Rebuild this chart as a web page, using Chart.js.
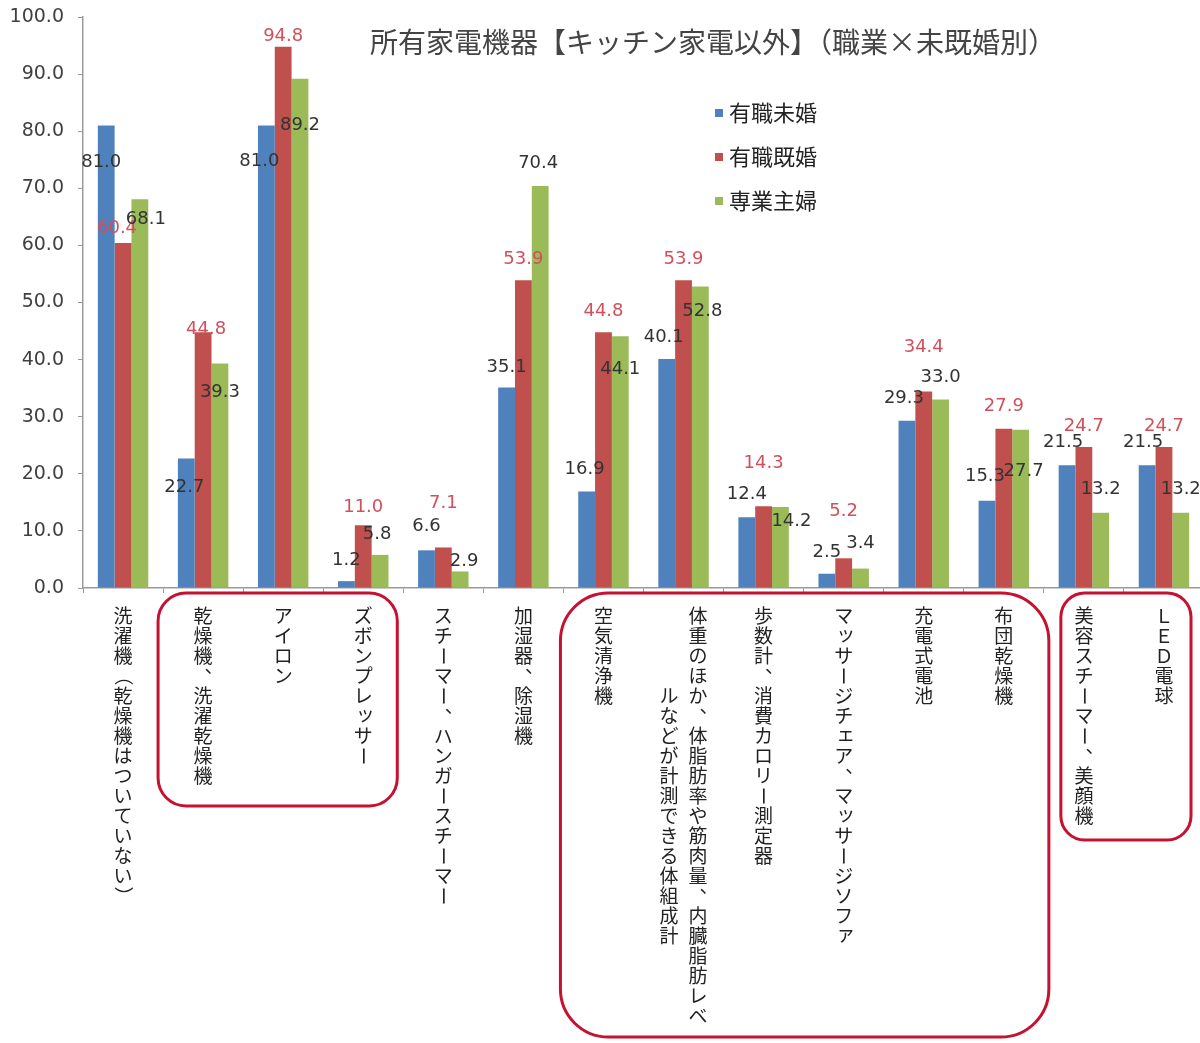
<!DOCTYPE html>
<html>
<head>
<meta charset="utf-8">
<script src="https://cdn.jsdelivr.net/npm/chart.js@4.4.1/dist/chart.umd.min.js"></script>
<style>
  html, body { margin: 0; padding: 0; background: #fff; overflow: hidden; }
  #wrap { width: 1204px; height: 1043px; }
</style>
</head>
<body>
<div id="wrap"><canvas id="c" width="1204" height="1043"></canvas></div>
<script>
// ---- data ----
const chartTitle = '所有家電機器【キッチン家電以外】（職業×未既婚別）';
const categories = [
  '洗濯機（乾燥機はついていない）',
  '乾燥機、洗濯乾燥機',
  'アイロン',
  'ズボンプレッサー',
  'スチーマー、ハンガースチーマー',
  '加湿器、除湿機',
  '空気清浄機',
  '体重のほか、体脂肪率や筋肉量、内臓脂肪レベルなどが計測できる体組成計',
  '歩数計、消費カロリー測定器',
  'マッサージチェア、マッサージソファ',
  '充電式電池',
  '布団乾燥機',
  '美容スチーマー、美顔機',
  'ＬＥＤ電球'
];
const seriesNames = ['有職未婚', '有職既婚', '専業主婦'];
const workingSingle  = [81.0, 22.7, 81.0, 1.2, 6.6, 35.1, 16.9, 40.1, 12.4, 2.5, 29.3, 15.3, 21.5, 21.5];
const workingMarried = [60.4, 44.8, 94.8, 11.0, 7.1, 53.9, 44.8, 53.9, 14.3, 5.2, 34.4, 27.9, 24.7, 24.7];
const housewife      = [68.1, 39.3, 89.2, 5.8, 2.9, 70.4, 44.1, 52.8, 14.2, 3.4, 33.0, 27.7, 13.2, 13.2];
const yMin = 0, yMax = 100, yStep = 10;

// ---- styling (label placement relative to each bar top, in px) ----
const seriesColors = ['#4F81BD', '#C0504D', '#9BBB59'];
const labelColors  = ['#333333', '#D0505C', '#333333'];
const labelShiftX = [
  [-5, -2, -7, 0, 0, 0, -2, -3, 0, 0, -3, -2, -4, -4],
  [-6, 3, 0, 0, 0, 0, 0, 0, 0, 0, 0, 0, 0, 0],
  [6, 0, 0, -3, 4, -2, 0, 2, 11, 0, 0, 3, 0, 0]
];
const labelShiftY = [
  [37, 29, 36, -21, -24, -20, -22, -22, -23, -21, -22, -24, -23, -23],
  [-15, -3, -10, -18, -44, -21, -21, -21, -43, -47, -44, -22, -21, -21],
  [20, 29, 47, -21, -10, -23, 33, 25, 14, -25, -22, 41, -23, -23]
];
// red rounded boxes around category-label groups
const groupBoxes = [
  { from: 1, to: 3, inL: -5, inR: 6, bottom: 806, r: 28 },
  { from: 6, to: 11, inL: -3, inR: -5, bottom: 1037, r: 48 },
  { from: 12, to: 13, inL: 17, inR: 13, bottom: 840, r: 24 }
];

const CJK = '"Noto Sans CJK JP", "Noto Sans", sans-serif';
const NUM = '"DejaVu Sans", "Liberation Sans", sans-serif';

function drawVerticalLabel(ctx, text, cx, topY) {
  const step = 20, maxPerCol = 21, colGap = 29;
  const chars = Array.from(text);
  const cols = [];
  for (let i = 0; i < chars.length; i += maxPerCol) cols.push(chars.slice(i, i + maxPerCol));
  const n = cols.length;
  const fullLen = cols[0].length * step;
  ctx.save();
  ctx.font = '19px ' + CJK;
  ctx.fillStyle = '#222';
  ctx.textAlign = 'center';
  ctx.textBaseline = 'middle';
  cols.forEach((col, k) => {
    const x = cx + ((n - 1) / 2 - k) * colGap;
    const len = col.length * step;
    let y = topY + (n > 1 ? (fullLen - len) / 2 : 0) + step / 2;
    col.forEach(ch => {
      if (ch === 'ー' || ch === '～' || ch === '（' || ch === '）') {
        ctx.save();
        ctx.translate(x, y);
        ctx.rotate(Math.PI / 2);
        ctx.fillText(ch, 0, 0);
        ctx.restore();
      } else if (ch === '、') {
        ctx.fillText(ch, x + 11, y - 10);
      } else if ('ッャュョァィゥェォ'.includes(ch)) {
        ctx.fillText(ch, x + 2, y - 2);
      } else {
        ctx.fillText(ch, x, y);
      }
      y += step;
    });
  });
  ctx.restore();
}

function roundRect(ctx, x, y, w, h, r) {
  ctx.beginPath();
  ctx.moveTo(x + r, y);
  ctx.lineTo(x + w - r, y);
  ctx.arcTo(x + w, y, x + w, y + r, r);
  ctx.lineTo(x + w, y + h - r);
  ctx.arcTo(x + w, y + h, x + w - r, y + h, r);
  ctx.lineTo(x + r, y + h);
  ctx.arcTo(x, y + h, x, y + h - r, r);
  ctx.lineTo(x, y + r);
  ctx.arcTo(x, y, x + r, y, r);
  ctx.closePath();
}

const extras = {
  id: 'extras',
  afterDatasetsDraw(chart) {
    const ctx = chart.ctx;
    ctx.save();
    ctx.font = '18px ' + NUM;
    ctx.textAlign = 'center';
    ctx.textBaseline = 'middle';
    chart.data.datasets.forEach((ds, si) => {
      const meta = chart.getDatasetMeta(si);
      meta.data.forEach((bar, i) => {
        ctx.fillStyle = labelColors[si];
        ctx.fillText(ds.data[i].toFixed(1), bar.x + labelShiftX[si][i], bar.y + labelShiftY[si][i]);
      });
    });
    ctx.restore();
  },
  afterDraw(chart) {
    const ctx = chart.ctx;
    const xs = chart.scales.x;
    const area = chart.chartArea;
    const catW = (area.right - area.left) / categories.length;
    categories.forEach((c, i) => {
      drawVerticalLabel(ctx, c, xs.getPixelForValue(i), 606);
    });
    ctx.save();
    ctx.strokeStyle = '#C41230';
    ctx.lineWidth = 3;
    groupBoxes.forEach(b => {
      const l = xs.getPixelForValue(b.from) - catW / 2 + b.inL;
      const r = xs.getPixelForValue(b.to) + catW / 2 - b.inR;
      const t = area.bottom + 5;
      roundRect(ctx, l, t, r - l, b.bottom - t, b.r);
      ctx.stroke();
    });
    ctx.restore();
    ctx.save();
    ctx.font = '28px ' + CJK;
    ctx.fillStyle = '#444';
    ctx.textAlign = 'center';
    ctx.textBaseline = 'middle';
    ctx.fillText(chartTitle, 713, 42);
    ctx.restore();
    ctx.save();
    ctx.font = '22px ' + CJK;
    ctx.textAlign = 'left';
    ctx.textBaseline = 'middle';
    seriesNames.forEach((name, k) => {
      const y = 113 + k * 44;
      ctx.fillStyle = seriesColors[k];
      ctx.fillRect(715, y - 4, 8, 8);
      ctx.fillStyle = '#222';
      ctx.fillText(name, 729, y);
    });
    ctx.restore();
  }
};

const series = [workingSingle, workingMarried, housewife];
new Chart(document.getElementById('c'), {
  type: 'bar',
  data: {
    labels: categories,
    datasets: series.map((d, k) => ({
      label: seriesNames[k],
      data: d,
      backgroundColor: seriesColors[k],
      borderWidth: 0,
      categoryPercentage: 0.63,
      barPercentage: 1.0
    }))
  },
  options: {
    responsive: false,
    animation: false,
    devicePixelRatio: 1,
    layout: { padding: { top: 17, left: 0, right: 0, bottom: 450 } },
    plugins: {
      legend: { display: false },
      title: { display: false },
      tooltip: { enabled: false }
    },
    scales: {
      x: {
        grid: { drawOnChartArea: false, drawTicks: true, tickLength: 5, color: '#999', offset: true },
        border: { color: '#999', width: 1.5 },
        ticks: { display: false }
      },
      y: {
        min: yMin, max: yMax,
        afterFit(s) { s.width = 83; s.paddingTop = 0; s.paddingBottom = 0; },
        grid: { drawOnChartArea: false, drawTicks: true, tickLength: 5, color: '#999' },
        border: { color: '#999', width: 1.5 },
        ticks: {
          stepSize: yStep,
          padding: 14,
          color: '#404040',
          font: { family: NUM, size: 19 },
          callback: v => Number(v).toFixed(1)
        }
      }
    }
  },
  plugins: [extras]
});
</script>
</body>
</html>
